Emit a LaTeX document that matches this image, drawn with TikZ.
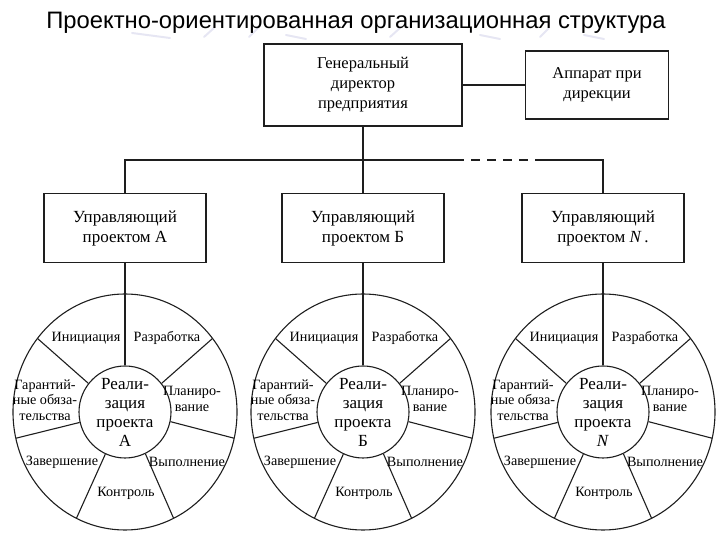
\documentclass[tikz,border=0pt]{standalone}
\usepackage{fontspec}
\setmainfont{Liberation Serif}
\newfontfamily\titlefont{Liberation Sans}
\usepackage{tikz}
\usetikzlibrary{positioning,calc}
\definecolor{inkgray}{HTML}{1E1E1E}
\definecolor{tmplav}{HTML}{E6E6F3}
\tikzset{
  orgbox/.style={draw=inkgray,line width=1.1pt,align=center,inner sep=2pt,
    font=\fontsize{16.5}{20}\selectfont},
  gdbox/.style={orgbox,minimum width=198pt,minimum height=82pt},
  appbox/.style={orgbox,minimum width=143pt,minimum height=68pt},
  mgrbox/.style={orgbox,minimum width=162pt,minimum height=69pt,
    font=\fontsize{17}{20}\selectfont},
  hubnode/.style={circle,draw=inkgray,line width=1.1pt,minimum size=92pt,inner sep=0pt,
    align=center,font=\fontsize{17}{19}\selectfont},
  phlabel/.style={align=center,inner sep=0pt,font=\fontsize{14.2}{15.5}\selectfont},
  conn/.style={draw=inkgray,line width=1.1pt},
  busdash/.style={conn,dash pattern=on 9pt off 7pt},
  decostroke/.style={tmplav,line width=2pt,line cap=round},
}
\begin{document}
\begin{tikzpicture}[x=1pt,y=1pt]
  \useasboundingbox (0,0) rectangle (720,540);
  \draw[decostroke] (132,507) -- (170,502);
  \draw[decostroke] (204,503) -- (214,512);
  \draw[decostroke] (249,503) -- (258,512);
  \draw[decostroke] (286,505) -- (306,501);
  \draw[decostroke] (390,503) -- (400,512);
  \draw[decostroke] (480,505) -- (500,501);
  \draw[decostroke] (540,503) -- (549,512);
  \draw[decostroke] (584,505) -- (604,501);
  \node[font=\titlefont\fontsize{23.8}{27}\selectfont] (nTitle) at (356,517)
    {Проектно-ориентированная организационная структура};
  \node[gdbox] (nGD) at (363,455) {Генеральный\\директор\\предприятия};
  \node[appbox] (nApp) at (597,455) {Аппарат при\\дирекции};
  \node[mgrbox] (nMA) at (125,312) {Управляющий\\проектом А};
  \node[mgrbox] (nMB) at (363,312) {Управляющий\\проектом Б};
  \node[mgrbox] (nMN) at (603,312) {Управляющий\\проектом \textit{N}\,.};
  \coordinate (dS) at (455,380);
  \coordinate (dE) at (535,380);
  \draw[conn] (nGD) -- (nApp);
  \draw[conn] (nGD) -- (nMB);
  \draw[conn] (nMA.north) |- (dS);
  \draw[busdash] (dS) -- (dE);
  \draw[conn] (dE) -| (nMN.north);
  \foreach \w/\cx/\tag in {A/125/А,B/363/Б,N/603/\textit{N}}{
    \coordinate (w\w) at (\cx,128);
    \draw[conn] (w\w) ellipse [x radius=112,y radius=118];
    \node[hubnode] (h\w) at (w\w) {Реали-\\зация\\проекта\\\tag};
    \foreach \k in {1,...,6}
      \draw[conn] (h\w.{90-\k*360/7}) -- ([shift={(w\w)}] {90-\k*360/7}:112 and 118);
    \node[phlabel] (ini\w) at ([shift={(w\w)}] -39,74) {Инициация};
    \node[phlabel] (dev\w) at ([shift={(w\w)}] 42,74) {Разработка};
    \node[phlabel] (pln\w) at ([shift={(w\w)}] 67,13) {Планиро-\\вание};
    \node[phlabel] (exe\w) at ([shift={(w\w)}] 62,-50) {Выполнение};
    \node[phlabel] (ctl\w) at ([shift={(w\w)}] 1,-81) {Контроль};
    \node[phlabel] (fin\w) at ([shift={(w\w)}] -63,-50) {Завершение};
    \node[phlabel] (war\w) at ([shift={(w\w)}] -80,12) {Гарантий-\\ные обяза-\\тельства};
  }
  \draw[conn] (nMA) -- (hA);
  \draw[conn] (nMB) -- (hB);
  \draw[conn] (nMN) -- (hN);
\end{tikzpicture}
\end{document}
